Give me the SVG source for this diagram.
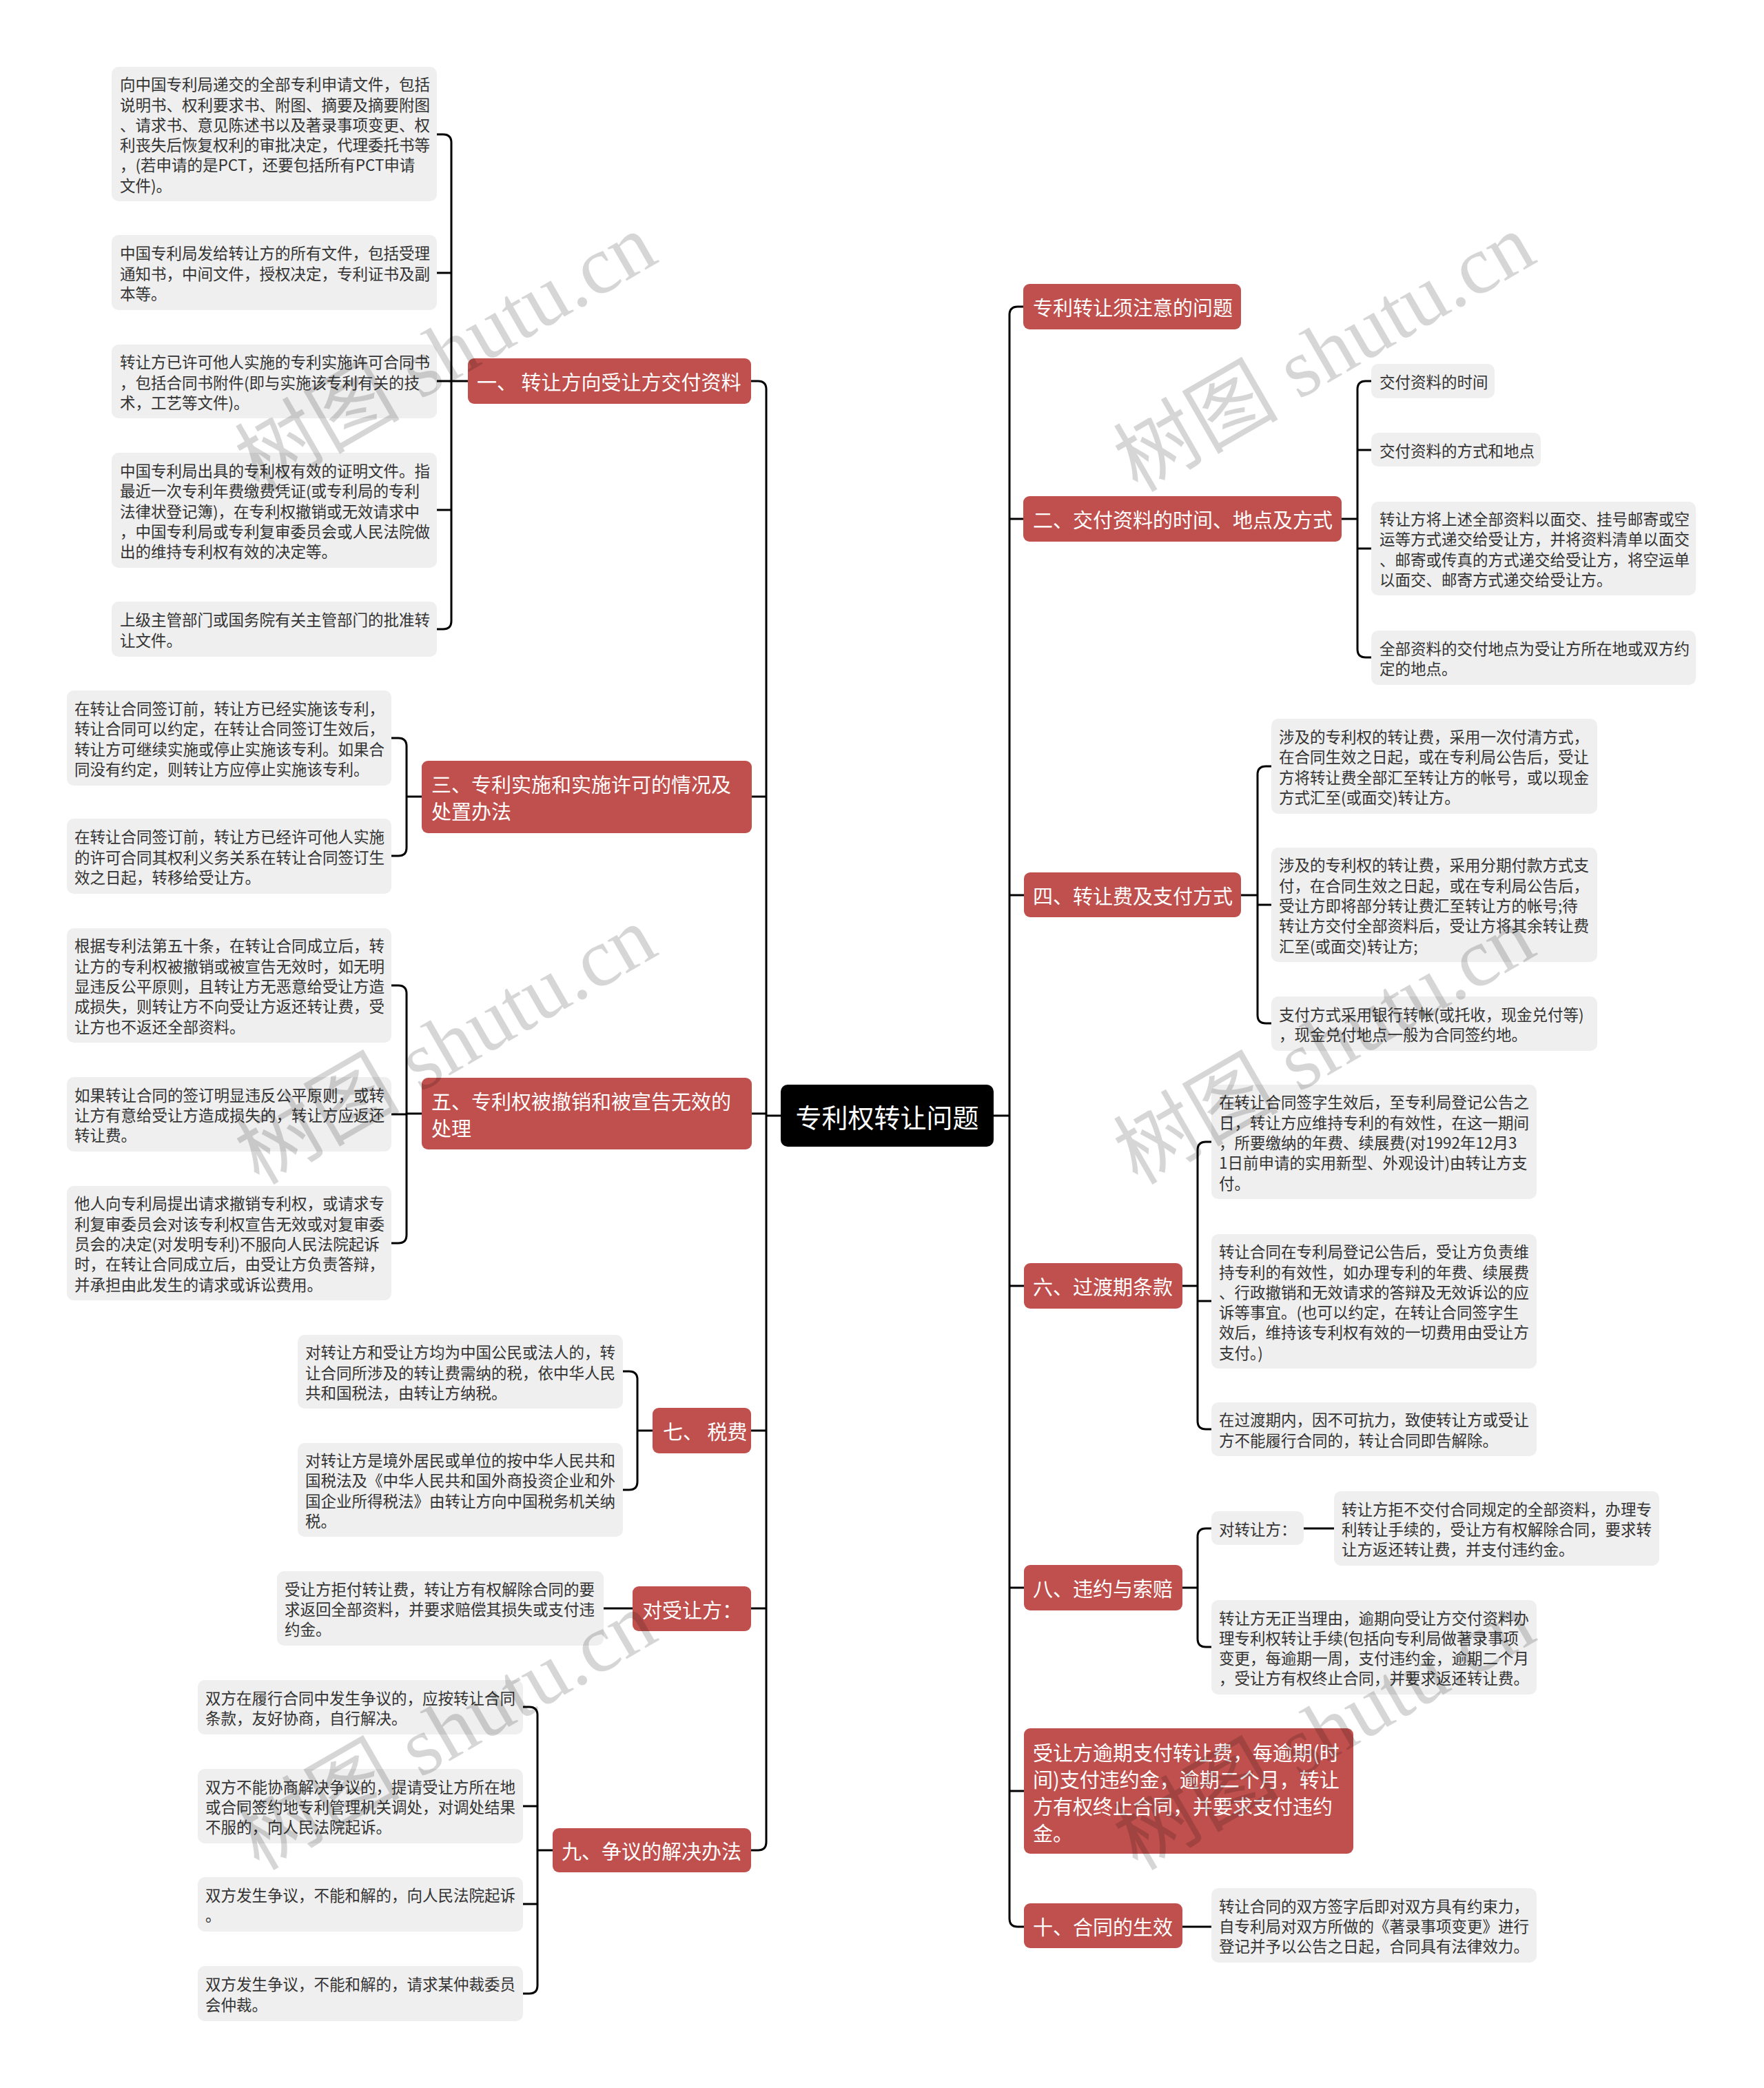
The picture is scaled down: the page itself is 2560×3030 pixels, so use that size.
<svg xmlns="http://www.w3.org/2000/svg" width="2560" height="3030" viewBox="0 0 2560 3030">
<style>
.bg{fill:#ffffff}
.root rect{fill:#000000}
.root text{fill:#ffffff;font-family:"Noto Sans CJK SC","Noto Sans",sans-serif;font-size:38px;dominant-baseline:central;text-anchor:middle}
.n1 rect{fill:#C0504D}
.n1 text{fill:#ffffff;font-family:"Noto Sans CJK SC","Noto Sans",sans-serif;font-size:29px;dominant-baseline:central}
.lf rect{fill:#EFEFEF}
.lf text{fill:#333333;font-family:"Noto Sans CJK SC","Noto Sans",sans-serif;font-size:22.5px;dominant-baseline:central}
.conn path{fill:none;stroke:#000000;stroke-width:3;stroke-linecap:butt;stroke-linejoin:round}
.wm text{fill:#000000;fill-opacity:0.16;font-family:"Liberation Serif","Noto Sans CJK SC",serif;font-size:120px;text-anchor:middle;dominant-baseline:central}
</style>
<rect class="bg" x="0" y="0" width="2560" height="3030"/>

<g id="connectors" class="conn">
  <!-- root to trunks -->
  <path d="M1133 1619 H1112"/>
  <path d="M1442 1619 H1465"/>
  <!-- left trunk -->
  <path d="M1090 553 H1100 Q1112 553 1112 565 V2673 Q1112 2685 1100 2685 H1090"/>
  <path d="M1091 1156 H1112"/>
  <path d="M1091 1616 H1112"/>
  <path d="M1090 2076 H1112"/>
  <path d="M1090 2334 H1112"/>
  <!-- right trunk -->
  <path d="M1485 445 H1477 Q1465 445 1465 457 V2784 Q1465 2796 1477 2796 H1486"/>
  <path d="M1465 753 H1485"/>
  <path d="M1465 1299 H1486"/>
  <path d="M1465 1866 H1486"/>
  <path d="M1465 2304 H1486"/>
  <path d="M1465 2599 H1486"/>
  <!-- 一 -->
  <path d="M679 553 H655"/>
  <path d="M634 195 H643 Q655 195 655 207 V901 Q655 913 643 913 H634"/>
  <path d="M634 396 H655"/>
  <path d="M634 553 H655"/>
  <path d="M634 740 H655"/>
  <!-- 三 -->
  <path d="M612 1156 H590"/>
  <path d="M568 1071 H578 Q590 1071 590 1083 V1230 Q590 1242 578 1242 H568"/>
  <!-- 五 -->
  <path d="M612 1616 H590"/>
  <path d="M568 1430 H578 Q590 1430 590 1442 V1792 Q590 1804 578 1804 H568"/>
  <path d="M568 1617 H590"/>
  <!-- 七 -->
  <path d="M947 2076 H925"/>
  <path d="M904 1990 H913 Q925 1990 925 2002 V2150 Q925 2162 913 2162 H904"/>
  <!-- 对受让方 -->
  <path d="M876 2334 H918"/>
  <!-- 九 -->
  <path d="M802 2685 H780"/>
  <path d="M759 2477 H768 Q780 2477 780 2489 V2881 Q780 2893 768 2893 H759"/>
  <path d="M759 2621 H780"/>
  <path d="M759 2763 H780"/>
  <!-- 二 -->
  <path d="M1947 753 H1970"/>
  <path d="M1990 553 H1982 Q1970 553 1970 565 V942 Q1970 954 1982 954 H1990"/>
  <path d="M1990 653 H1970"/>
  <path d="M1990 796 H1970"/>
  <!-- 四 -->
  <path d="M1801 1299 H1825"/>
  <path d="M1845 1112 H1837 Q1825 1112 1825 1124 V1473 Q1825 1485 1837 1485 H1845"/>
  <path d="M1845 1313 H1825"/>
  <!-- 六 -->
  <path d="M1716 1866 H1738"/>
  <path d="M1758 1657 H1750 Q1738 1657 1738 1669 V2062 Q1738 2074 1750 2074 H1758"/>
  <path d="M1758 1888 H1738"/>
  <!-- 八 -->
  <path d="M1716 2304 H1738"/>
  <path d="M1758 2218 H1750 Q1738 2218 1738 2230 V2378 Q1738 2390 1750 2390 H1758"/>
  <path d="M1892 2218 H1936"/>
  <!-- 十 -->
  <path d="M1716 2796 H1758"/>
</g>

<g id="root" class="root">
  <rect x="1133" y="1574" width="309" height="90" rx="10"/>
  <text x="1287.5" y="1619">专利权转让问题</text>
</g>

<!-- left level 1 -->
<g id="n-yi" class="n1">
  <rect x="679" y="520" width="411" height="66" rx="9"/>
  <text x="692" y="553">一、 转让方向受让方交付资料</text>
</g>
<g id="n-san" class="n1">
  <rect x="612" y="1104" width="479" height="105" rx="9"/>
  <text x="626" y="1137">三、专利实施和实施许可的情况及<tspan x="626" dy="39">处置办法</tspan></text>
</g>
<g id="n-wu" class="n1">
  <rect x="612" y="1564" width="479" height="104" rx="9"/>
  <text x="626" y="1597">五、专利权被撤销和被宣告无效的<tspan x="626" dy="39">处理</tspan></text>
</g>
<g id="n-qi" class="n1">
  <rect x="947" y="2043" width="143" height="66" rx="9"/>
  <text x="962" y="2076">七、 税费</text>
</g>
<g id="n-shourang" class="n1">
  <rect x="918" y="2302" width="172" height="65" rx="9"/>
  <text x="932" y="2334.5">对受让方：</text>
</g>
<g id="n-jiu" class="n1">
  <rect x="802" y="2653" width="288" height="64" rx="9"/>
  <text x="815" y="2685">九、争议的解决办法</text>
</g>

<!-- right level 1 -->
<g id="n-zhuyi" class="n1">
  <rect x="1485" y="412" width="316" height="66" rx="9"/>
  <text x="1499" y="445">专利转让须注意的问题</text>
</g>
<g id="n-er" class="n1">
  <rect x="1485" y="720" width="462" height="66" rx="9"/>
  <text x="1499" y="753">二、交付资料的时间、地点及方式</text>
</g>
<g id="n-si" class="n1">
  <rect x="1486" y="1266" width="315" height="65" rx="9"/>
  <text x="1499" y="1298.5">四、转让费及支付方式</text>
</g>
<g id="n-liu" class="n1">
  <rect x="1486" y="1833" width="230" height="66" rx="9"/>
  <text x="1499" y="1866">六、过渡期条款</text>
</g>
<g id="n-ba" class="n1">
  <rect x="1486" y="2271" width="230" height="66" rx="9"/>
  <text x="1499" y="2304">八、违约与索赔</text>
</g>
<g id="n-yuqi" class="n1">
  <rect x="1486" y="2508" width="478" height="182" rx="9"/>
  <text x="1499" y="2542">受让方逾期支付转让费，每逾期(时<tspan x="1499" dy="39">间)支付违约金，逾期二个月，转让</tspan><tspan x="1499" dy="39">方有权终止合同，并要求支付违约</tspan><tspan x="1499" dy="39">金。</tspan></text>
</g>
<g id="n-shi" class="n1">
  <rect x="1486" y="2762" width="230" height="65" rx="9"/>
  <text x="1499" y="2794.5">十、合同的生效</text>
</g>

<!-- left leaves -->
<g id="yi-1" class="lf">
  <rect x="162" y="97" width="472" height="195" rx="10"/>
  <text x="174" y="121.25">向中国专利局递交的全部专利申请文件，包括<tspan x="174" dy="29.3">说明书、权利要求书、附图、摘要及摘要附图</tspan><tspan x="174" dy="29.3">、请求书、意见陈述书以及著录事项变更、权</tspan><tspan x="174" dy="29.3">利丧失后恢复权利的审批决定，代理委托书等</tspan><tspan x="174" dy="29.3">，(若申请的是PCT，还要包括所有PCT申请</tspan><tspan x="174" dy="29.3">文件)。</tspan></text>
</g>
<g id="yi-2" class="lf">
  <rect x="162" y="341" width="472" height="109" rx="10"/>
  <text x="174" y="366.2">中国专利局发给转让方的所有文件，包括受理<tspan x="174" dy="29.3">通知书，中间文件，授权决定，专利证书及副</tspan><tspan x="174" dy="29.3">本等。</tspan></text>
</g>
<g id="yi-3" class="lf">
  <rect x="162" y="500" width="472" height="107" rx="10"/>
  <text x="174" y="524.2">转让方已许可他人实施的专利实施许可合同书<tspan x="174" dy="29.3">，包括合同书附件(即与实施该专利有关的技</tspan><tspan x="174" dy="29.3">术，工艺等文件)。</tspan></text>
</g>
<g id="yi-4" class="lf">
  <rect x="162" y="657" width="472" height="167" rx="10"/>
  <text x="174" y="681.9">中国专利局出具的专利权有效的证明文件。指<tspan x="174" dy="29.3">最近一次专利年费缴费凭证(或专利局的专利</tspan><tspan x="174" dy="29.3">法律状登记簿)，在专利权撤销或无效请求中</tspan><tspan x="174" dy="29.3">，中国专利局或专利复审委员会或人民法院做</tspan><tspan x="174" dy="29.3">出的维持专利权有效的决定等。</tspan></text>
</g>
<g id="yi-5" class="lf">
  <rect x="162" y="873" width="472" height="80" rx="10"/>
  <text x="174" y="898.35">上级主管部门或国务院有关主管部门的批准转<tspan x="174" dy="29.3">让文件。</tspan></text>
</g>

<g id="san-1" class="lf">
  <rect x="97" y="1002" width="471" height="138" rx="10"/>
  <text x="108" y="1027">在转让合同签订前，转让方已经实施该专利，<tspan x="108" dy="29.3">转让合同可以约定，在转让合同签订生效后，</tspan><tspan x="108" dy="29.3">转让方可继续实施或停止实施该专利。如果合</tspan><tspan x="108" dy="29.3">同没有约定，则转让方应停止实施该专利。</tspan></text>
</g>
<g id="san-2" class="lf">
  <rect x="97" y="1188" width="471" height="109" rx="10"/>
  <text x="108" y="1213.2">在转让合同签订前，转让方已经许可他人实施<tspan x="108" dy="29.3">的许可合同其权利义务关系在转让合同签订生</tspan><tspan x="108" dy="29.3">效之日起，转移给受让方。</tspan></text>
</g>

<g id="wu-1" class="lf">
  <rect x="97" y="1347" width="471" height="166" rx="10"/>
  <text x="108" y="1371.4">根据专利法第五十条，在转让合同成立后，转<tspan x="108" dy="29.3">让方的专利权被撤销或被宣告无效时，如无明</tspan><tspan x="108" dy="29.3">显违反公平原则，且转让方无恶意给受让方造</tspan><tspan x="108" dy="29.3">成损失，则转让方不向受让方返还转让费，受</tspan><tspan x="108" dy="29.3">让方也不返还全部资料。</tspan></text>
</g>
<g id="wu-2" class="lf">
  <rect x="97" y="1563" width="471" height="108" rx="10"/>
  <text x="108" y="1587.7">如果转让合同的签订明显违反公平原则，或转<tspan x="108" dy="29.3">让方有意给受让方造成损失的，转让方应返还</tspan><tspan x="108" dy="29.3">转让费。</tspan></text>
</g>
<g id="wu-3" class="lf">
  <rect x="97" y="1721" width="471" height="166" rx="10"/>
  <text x="108" y="1745.4">他人向专利局提出请求撤销专利权，或请求专<tspan x="108" dy="29.3">利复审委员会对该专利权宣告无效或对复审委</tspan><tspan x="108" dy="29.3">员会的决定(对发明专利)不服向人民法院起诉</tspan><tspan x="108" dy="29.3">时，在转让合同成立后，由受让方负责答辩，</tspan><tspan x="108" dy="29.3">并承担由此发生的请求或诉讼费用。</tspan></text>
</g>

<g id="qi-1" class="lf">
  <rect x="432" y="1937" width="472" height="107" rx="10"/>
  <text x="443" y="1961.2">对转让方和受让方均为中国公民或法人的，转<tspan x="443" dy="29.3">让合同所涉及的转让费需纳的税，依中华人民</tspan><tspan x="443" dy="29.3">共和国税法，由转让方纳税。</tspan></text>
</g>
<g id="qi-2" class="lf">
  <rect x="432" y="2094" width="472" height="136" rx="10"/>
  <text x="443" y="2118">对转让方是境外居民或单位的按中华人民共和<tspan x="443" dy="29.3">国税法及《中华人民共和国外商投资企业和外</tspan><tspan x="443" dy="29.3">国企业所得税法》由转让方向中国税务机关纳</tspan><tspan x="443" dy="29.3">税。</tspan></text>
</g>

<g id="shourang-1" class="lf">
  <rect x="402" y="2280" width="474" height="108" rx="10"/>
  <text x="413" y="2304.7">受让方拒付转让费，转让方有权解除合同的要<tspan x="413" dy="29.3">求返回全部资料，并要求赔偿其损失或支付违</tspan><tspan x="413" dy="29.3">约金。</tspan></text>
</g>

<g id="jiu-1" class="lf">
  <rect x="287" y="2438" width="472" height="79" rx="10"/>
  <text x="298" y="2462.85">双方在履行合同中发生争议的，应按转让合同<tspan x="298" dy="29.3">条款，友好协商，自行解决。</tspan></text>
</g>
<g id="jiu-2" class="lf">
  <rect x="287" y="2567" width="472" height="108" rx="10"/>
  <text x="298" y="2591.7">双方不能协商解决争议的，提请受让方所在地<tspan x="298" dy="29.3">或合同签约地专利管理机关调处，对调处结果</tspan><tspan x="298" dy="29.3">不服的，向人民法院起诉。</tspan></text>
</g>
<g id="jiu-3" class="lf">
  <rect x="287" y="2724" width="472" height="79" rx="10"/>
  <text x="298" y="2748.85">双方发生争议，不能和解的，向人民法院起诉<tspan x="298" dy="29.3">。</tspan></text>
</g>
<g id="jiu-4" class="lf">
  <rect x="287" y="2853" width="472" height="80" rx="10"/>
  <text x="298" y="2878.35">双方发生争议，不能和解的，请求某仲裁委员<tspan x="298" dy="29.3">会仲裁。</tspan></text>
</g>

<!-- right leaves -->
<g id="er-1" class="lf">
  <rect x="1990" y="528" width="179" height="50" rx="10"/>
  <text x="2002" y="553">交付资料的时间</text>
</g>
<g id="er-2" class="lf">
  <rect x="1990" y="628" width="246" height="49" rx="10"/>
  <text x="2002" y="652.5">交付资料的方式和地点</text>
</g>
<g id="er-3" class="lf">
  <rect x="1990" y="728" width="471" height="136" rx="10"/>
  <text x="2002" y="752">转让方将上述全部资料以面交、挂号邮寄或空<tspan x="2002" dy="29.3">运等方式递交给受让方，并将资料清单以面交</tspan><tspan x="2002" dy="29.3">、邮寄或传真的方式递交给受让方，将空运单</tspan><tspan x="2002" dy="29.3">以面交、邮寄方式递交给受让方。</tspan></text>
</g>
<g id="er-4" class="lf">
  <rect x="1990" y="915" width="471" height="79" rx="10"/>
  <text x="2002" y="939.85">全部资料的交付地点为受让方所在地或双方约<tspan x="2002" dy="29.3">定的地点。</tspan></text>
</g>

<g id="si-1" class="lf">
  <rect x="1845" y="1043" width="473" height="138" rx="10"/>
  <text x="1856" y="1068">涉及的专利权的转让费，采用一次付清方式，<tspan x="1856" dy="29.3">在合同生效之日起，或在专利局公告后，受让</tspan><tspan x="1856" dy="29.3">方将转让费全部汇至转让方的帐号，或以现金</tspan><tspan x="1856" dy="29.3">方式汇至(或面交)转让方。</tspan></text>
</g>
<g id="si-2" class="lf">
  <rect x="1845" y="1230" width="473" height="166" rx="10"/>
  <text x="1856" y="1254.4">涉及的专利权的转让费，采用分期付款方式支<tspan x="1856" dy="29.3">付，在合同生效之日起，或在专利局公告后，</tspan><tspan x="1856" dy="29.3">受让方即将部分转让费汇至转让方的帐号;待</tspan><tspan x="1856" dy="29.3">转让方交付全部资料后，受让方将其余转让费</tspan><tspan x="1856" dy="29.3">汇至(或面交)转让方;</tspan></text>
</g>
<g id="si-3" class="lf">
  <rect x="1845" y="1446" width="473" height="79" rx="10"/>
  <text x="1856" y="1470.85">支付方式采用银行转帐(或托收，现金兑付等)<tspan x="1856" dy="29.3">，现金兑付地点一般为合同签约地。</tspan></text>
</g>

<g id="liu-1" class="lf">
  <rect x="1758" y="1574" width="472" height="166" rx="10"/>
  <text x="1769" y="1598.4">在转让合同签字生效后，至专利局登记公告之<tspan x="1769" dy="29.3">日，转让方应维持专利的有效性，在这一期间</tspan><tspan x="1769" dy="29.3">，所要缴纳的年费、续展费(对1992年12月3</tspan><tspan x="1769" dy="29.3">1日前申请的实用新型、外观设计)由转让方支</tspan><tspan x="1769" dy="29.3">付。</tspan></text>
</g>
<g id="liu-2" class="lf">
  <rect x="1758" y="1791" width="472" height="195" rx="10"/>
  <text x="1769" y="1815.25">转让合同在专利局登记公告后，受让方负责维<tspan x="1769" dy="29.3">持专利的有效性，如办理专利的年费、续展费</tspan><tspan x="1769" dy="29.3">、行政撤销和无效请求的答辩及无效诉讼的应</tspan><tspan x="1769" dy="29.3">诉等事宜。(也可以约定，在转让合同签字生</tspan><tspan x="1769" dy="29.3">效后，维持该专利权有效的一切费用由受让方</tspan><tspan x="1769" dy="29.3">支付。)</tspan></text>
</g>
<g id="liu-3" class="lf">
  <rect x="1758" y="2035" width="472" height="78" rx="10"/>
  <text x="1769" y="2059.35">在过渡期内，因不可抗力，致使转让方或受让<tspan x="1769" dy="29.3">方不能履行合同的，转让合同即告解除。</tspan></text>
</g>

<g id="ba-1" class="lf">
  <rect x="1758" y="2193" width="134" height="49" rx="10"/>
  <text x="1769" y="2217.5">对转让方：</text>
</g>
<g id="ba-1-1" class="lf">
  <rect x="1936" y="2164" width="472" height="108" rx="10"/>
  <text x="1947" y="2188.7">转让方拒不交付合同规定的全部资料，办理专<tspan x="1947" dy="29.3">利转让手续的，受让方有权解除合同，要求转</tspan><tspan x="1947" dy="29.3">让方返还转让费，并支付违约金。</tspan></text>
</g>
<g id="ba-2" class="lf">
  <rect x="1758" y="2322" width="472" height="137" rx="10"/>
  <text x="1769" y="2346.5">转让方无正当理由，逾期向受让方交付资料办<tspan x="1769" dy="29.3">理专利权转让手续(包括向专利局做著录事项</tspan><tspan x="1769" dy="29.3">变更，每逾期一周，支付违约金，逾期二个月</tspan><tspan x="1769" dy="29.3">，受让方有权终止合同，并要求返还转让费。</tspan></text>
</g>

<g id="shi-1" class="lf">
  <rect x="1758" y="2740" width="472" height="108" rx="10"/>
  <text x="1769" y="2764.7">转让合同的双方签字后即对双方具有约束力，<tspan x="1769" dy="29.3">自专利局对双方所做的《著录事项变更》进行</tspan><tspan x="1769" dy="29.3">登记并予以公告之日起，合同具有法律效力。</tspan></text>
</g>

<g id="watermark" class="wm">
  <text transform="translate(647 512) rotate(-30)">树图 shutu.cn</text>
  <text transform="translate(1922 512) rotate(-30)">树图 shutu.cn</text>
  <text transform="translate(647 1517) rotate(-30)">树图 shutu.cn</text>
  <text transform="translate(1922 1517) rotate(-30)">树图 shutu.cn</text>
  <text transform="translate(647 2512) rotate(-30)">树图 shutu.cn</text>
  <text transform="translate(1922 2512) rotate(-30)">树图 shutu.cn</text>
</g>
</svg>
